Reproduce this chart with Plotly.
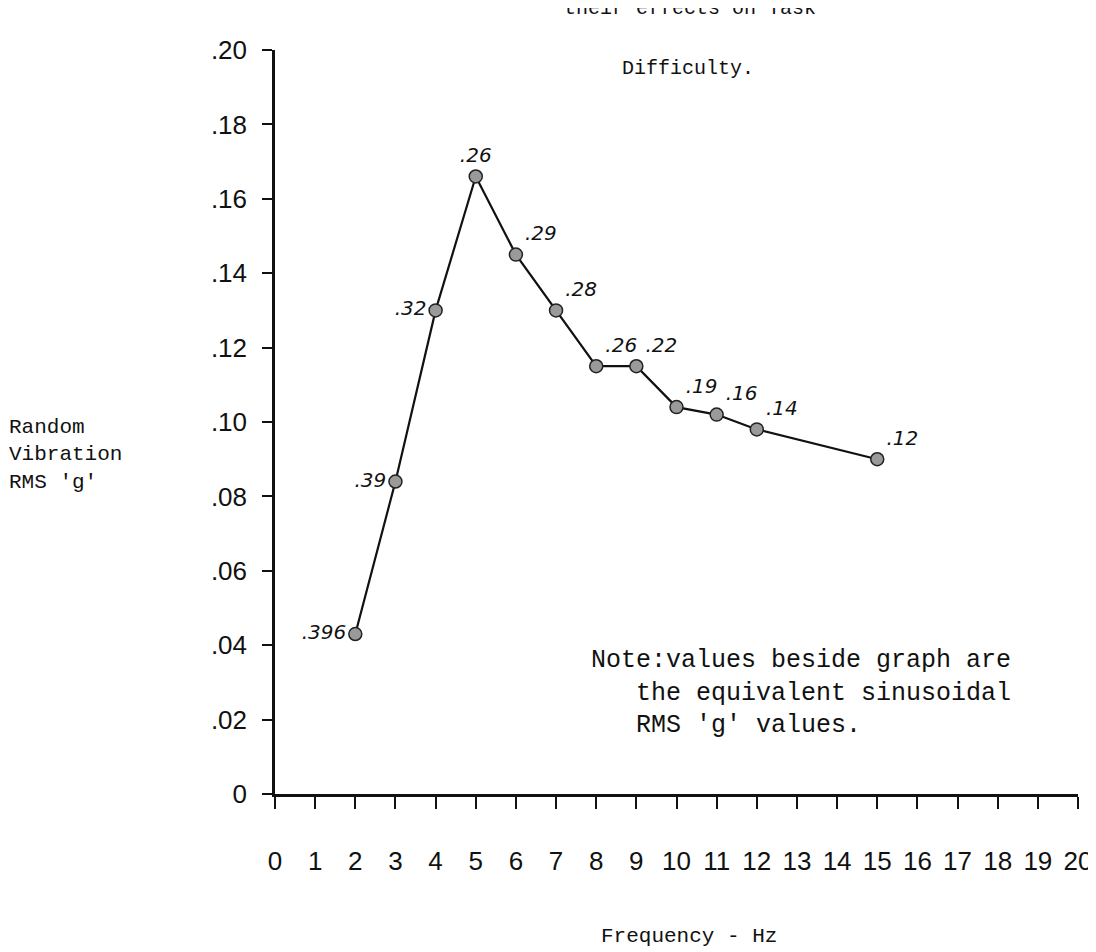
import plotly.graph_objects as go

# random vibration level (RMS g) at each test frequency
freq = [2, 3, 4, 5, 6, 7, 8, 9, 10, 11, 12, 15]
rms_random = [0.043, 0.084, 0.130, 0.166, 0.145, 0.130, 0.115, 0.115, 0.104, 0.102, 0.098, 0.090]
# hand-written equivalent sinusoidal RMS g values beside each point
sine_equiv = ['.396', '.39', '.32', '.26', '.29', '.28', '.26', '.22', '.19', '.16', '.14', '.12']

y_ticks = [0, 0.02, 0.04, 0.06, 0.08, 0.10, 0.12, 0.14, 0.16, 0.18, 0.20]
y_ticktext = ['0', '.02', '.04', '.06', '.08', '.10', '.12', '.14', '.16', '.18', '.20']
x_ticks = list(range(0, 21))

# where each hand-written label sits relative to its point
label_pos = ['middle left', 'middle left', 'middle left', 'top center', 'top right',
             'top right', 'top right', 'top right', 'top right', 'top right',
             'top right', 'top right']

mono = 'Liberation Mono'
num_font = 'Liberation Sans'

fig = go.Figure()
fig.add_trace(go.Scatter(
    x=freq,
    y=rms_random,
    mode='lines+markers+text',
    line=dict(color='#111111', width=2.2),
    marker=dict(size=13, color='#9a9a9a', line=dict(color='#222222', width=1.5)),
    text=sine_equiv,
    textposition=label_pos,
    textfont=dict(family='DejaVu Sans', size=20, color='#111111', style='italic'),
    showlegend=False,
    cliponaxis=False,
))

fig.update_layout(
    width=1096,
    height=952,
    paper_bgcolor='white',
    plot_bgcolor='white',
    margin=dict(l=267, r=26, t=42, b=166),
    xaxis=dict(
        range=[0, 20],
        tickvals=x_ticks,
        ticktext=[str(v) for v in x_ticks],
        showgrid=False,
        zeroline=False,
        showline=True,
        linecolor='#111111',
        linewidth=2.5,
        ticks='outside',
        ticklen=12,
        tickwidth=2,
        tickcolor='#111111',
        ticklabelstandoff=30,
        tickfont=dict(family=num_font, size=26, color='#111111'),
    ),
    yaxis=dict(
        range=[0, 0.20],
        tickvals=y_ticks,
        ticktext=y_ticktext,
        showgrid=False,
        zeroline=False,
        showline=True,
        linecolor='#111111',
        linewidth=2.5,
        ticks='outside',
        ticklen=10,
        tickwidth=2,
        tickcolor='#111111',
        ticklabelstandoff=10,
        tickfont=dict(family=num_font, size=26, color='#111111'),
    ),
)

# x-axis caption
fig.add_annotation(
    text='Frequency - Hz',
    xref='paper', yref='paper', x=0.516, y=-0.192,
    xanchor='center', yanchor='middle', showarrow=False,
    font=dict(family=mono, size=21, color='#111111'),
)

# y-axis caption typed on three lines to the left
fig.add_annotation(
    text="Random<br>Vibration<br>RMS 'g'",
    xref='paper', yref='paper', x=-0.334, y=0.456,
    xanchor='left', yanchor='middle', align='left', showarrow=False,
    font=dict(family=mono, size=21, color='#111111'),
)

# title lines (first one runs off the top of the page)
fig.add_annotation(
    text='their effects on Task',
    xref='paper', yref='paper', x=0.517, y=1.056,
    xanchor='center', yanchor='middle', showarrow=False,
    font=dict(family=mono, size=20, color='#111111'),
)
fig.add_annotation(
    text='Difficulty.',
    xref='paper', yref='paper', x=0.514, y=0.975,
    xanchor='center', yanchor='middle', showarrow=False,
    font=dict(family=mono, size=20, color='#111111'),
)

fig.add_annotation(
    text="Note:values beside graph are<br>   the equivalent sinusoidal<br>   RMS 'g' values.",
    xref='paper', yref='paper', x=0.391, y=0.2016,
    xanchor='left', yanchor='top', align='left', showarrow=False,
    font=dict(family=mono, size=25, color='#111111'),
)

fig.write_html('out.html')
